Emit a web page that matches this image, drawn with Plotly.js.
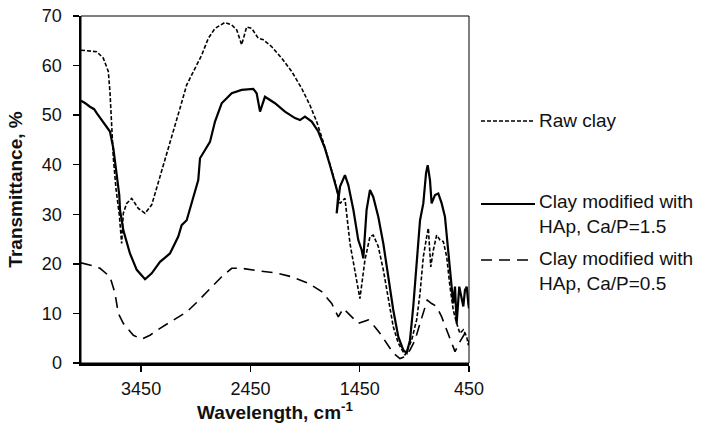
<!DOCTYPE html>
<html>
<head>
<meta charset="utf-8">
<script src="https://cdn.plot.ly/plotly-3.0.1.min.js"></script>
<style>html,body{margin:0;padding:0;background:#fff;}#chart{width:712px;height:426px;}</style>
</head>
<body>
<div id="chart"></div>
<script>
// Raw clay
const rawX = [4000,3918,3856,3796,3750,3735,3719,3704,3680,3650,3628,3613,3582,3536,3476,3414,3353,3293,3216,3094,3033,2957,2896,2835,2774,2683,2621,2575,2530,2484,2438,2378,2332,2255,2164,2072,1981,1905,1844,1783,1737,1676,1630,1585,1539,1494,1448,1402,1356,1326,1280,1234,1188,1143,1097,1036,975,929,898,868,837,822,800,776,746,715,685,654,624,594,563,533,502,471,456,450];
const rawY = [63.1,62.9,62.8,61.5,58.8,54.7,48.0,41.3,35.2,30.0,24.1,30.2,32.2,33.2,31.2,30.2,31.9,36.3,42.0,51.4,56.1,59.4,62.1,65.5,67.5,68.7,68.2,67.2,64.2,67.8,67.5,65.5,65.2,63.8,61.5,58.8,55.4,52.0,48.7,44.6,41.3,36.6,32.2,33.2,24.1,18.8,13.0,20.8,25.5,25.8,23.5,18.8,12.7,7.3,4.0,1.6,4.6,8.7,14.1,21.4,25.5,27.2,19.4,22.8,25.8,24.8,24.5,21.4,15.4,10.7,8.0,6.0,6.7,5.3,3.6,4.0];
// Clay modified with HAp, Ca/P=1.5
const hap15X = [4000,3960,3918,3880,3856,3830,3796,3735,3704,3674,3650,3643,3613,3552,3490,3414,3353,3277,3186,3110,3079,3033,2973,2927,2911,2820,2774,2713,2621,2530,2424,2393,2362,2317,2225,2134,2042,1996,1951,1889,1829,1768,1722,1676,1646,1661,1630,1585,1554,1508,1463,1432,1417,1387,1356,1326,1280,1234,1188,1143,1097,1051,1020,990,960,929,898,868,843,828,807,792,761,731,700,670,639,609,594,578,563,539,517,502,487,471,456,450];
const hap15Y = [52.9,52.4,51.7,51.2,50.4,49.6,48.7,46.7,43.3,38.6,33.9,30.9,26.8,22.1,18.8,16.9,18.1,20.4,22.1,25.5,27.8,28.8,33.5,36.9,41.3,44.6,48.7,52.4,54.4,55.1,55.3,54.4,50.7,53.7,52.4,50.7,49.4,49.0,49.7,48.7,46.7,43.3,39.9,35.9,33.9,30.2,35.6,37.9,35.9,30.9,24.8,22.8,21.1,30.9,34.9,33.5,29.5,24.1,17.4,10.7,5.3,2.6,2.0,4.6,11.4,20.8,28.8,32.2,38.3,39.9,36.9,32.2,33.9,34.2,32.2,29.5,22.1,16.1,12.0,15.4,8.0,15.4,12.7,11.4,14.7,15.4,12.0,11.0];
// Clay modified with HAp, Ca/P=0.5
const hap05X = [4000,3887,3826,3735,3689,3659,3613,3521,3445,3369,3277,3156,3033,2942,2835,2713,2621,2530,2378,2225,2072,1920,1798,1706,1646,1600,1523,1463,1372,1326,1265,1203,1143,1082,1036,990,944,898,853,832,792,746,700,654,609,578,533,487,456,450];
const hap05Y = [20.2,19.6,19.1,17.4,14.1,10.0,8.0,5.6,4.8,5.6,7.0,8.7,10.3,12.2,14.7,17.4,19.1,19.1,18.6,18.2,17.4,16.1,14.4,12.0,9.3,11.0,9.3,8.0,8.7,7.7,6.0,4.0,2.0,0.9,1.3,2.6,4.6,8.0,11.4,12.7,12.0,11.4,9.3,6.7,4.0,2.3,4.3,6.0,4.6,4.0];

const names = ["Raw clay", "Clay modified with<br>HAp, Ca/P=1.5", "Clay modified with<br>HAp, Ca/P=0.5"];
const xTicks = [3450, 2450, 1450, 450];

const FONT = "Liberation Sans, Arial, sans-serif";
const traces = [
  {x: rawX, y: rawY, mode: "lines", name: names[0], line: {color: "#000", width: 1.6, dash: "4px,2px"}, showlegend: false},
  {x: hap15X, y: hap15Y, mode: "lines", name: names[1], line: {color: "#000", width: 2.2}, showlegend: false},
  {x: hap05X, y: hap05Y, mode: "lines", name: names[2], line: {color: "#000", width: 1.6, dash: "11px,7px"}, showlegend: false}
];

// legend drawn as shapes + annotations (paper coords)
const legY = [121, 204, 260];   // pixel y of legend samples
const textY = [121, 214, 271];  // pixel y of legend text block centres
const plotTop = 16, plotH = 347, plotL = 81, plotW = 388;
function py(p){ return 1 - (p - plotTop)/plotH; }
function px(p){ return (p - plotL)/plotW; }
const dashes = ["4px,2px", "solid", "11px,7px"];
const widths = [1.6, 2.2, 1.6];
const shapes = [
  {type: "rect", xref: "paper", yref: "paper", x0: 0, x1: 1, y0: 0, y1: 1, line: {color: "#000", width: 1}}
];
const annotations = [];
for (let i = 0; i < 3; i++) {
  shapes.push({type: "line", xref: "paper", yref: "paper", x0: px(481), x1: px(535), y0: py(legY[i]), y1: py(legY[i]), line: {color: "#000", width: widths[i], dash: dashes[i]}});
  annotations.push({xref: "paper", yref: "paper", x: px(537), y: py(textY[i]), xanchor: "left", yanchor: "middle", align: "left", showarrow: false, text: names[i], font: {family: FONT, size: 19, color: "#111"}});
}

const layout = {
  width: 712, height: 426,
  margin: {l: 81, r: 243, t: 16, b: 63},
  paper_bgcolor: "#fff", plot_bgcolor: "#fff",
  showlegend: false,
  font: {family: FONT, size: 18, color: "#111"},
  xaxis: {
    range: [4000, 450], tickvals: xTicks, ticktext: xTicks.map(String),
    ticks: "outside", ticklen: 6, tickwidth: 1.5, tickcolor: "#000", ticklabelstandoff: 2,
    showline: true, linecolor: "#000", linewidth: 2.5, showgrid: false, zeroline: false,
    title: {text: "<b>Wavelength, cm<sup>-1</sup></b>", font: {family: FONT, size: 19, color: "#111"}, standoff: 7},
    tickfont: {family: FONT, size: 18, color: "#111"}
  },
  yaxis: {
    range: [0, 70], dtick: 10, tick0: 0,
    ticks: "outside", ticklen: 6, tickwidth: 1.5, tickcolor: "#000", ticklabelstandoff: 7,
    showline: true, linecolor: "#000", linewidth: 2.5, showgrid: false, zeroline: false,
    title: {text: "<b>Transmittance, %</b>", font: {family: FONT, size: 19, color: "#111"}, standoff: 14},
    tickfont: {family: FONT, size: 18, color: "#111"}
  },
  shapes: shapes,
  annotations: annotations
};

Plotly.newPlot("chart", traces, layout, {staticPlot: true, displayModeBar: false});
</script>
</body>
</html>
